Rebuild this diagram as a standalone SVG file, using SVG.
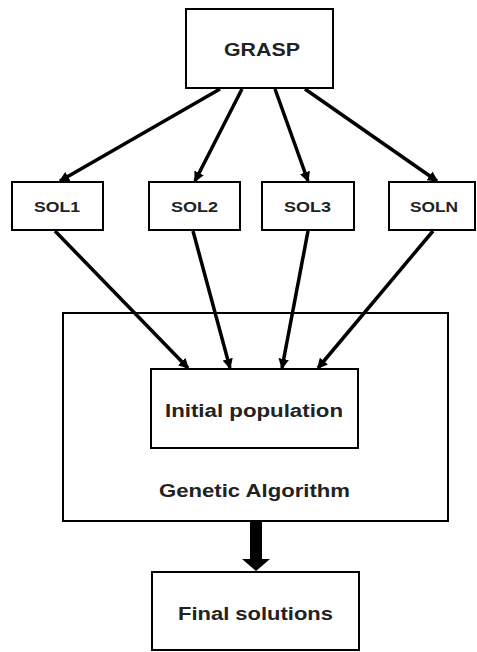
<svg xmlns="http://www.w3.org/2000/svg" width="477" height="652" viewBox="0 0 477 652">
<style>
.box{fill:#fff;stroke:#000;stroke-width:2}
.t{font-family:"Liberation Sans",Arial,sans-serif;font-weight:bold;fill:#222;text-anchor:middle}
.s{font-size:15px}
.c{stroke:#000;stroke-width:3.5;fill:none;marker-end:url(#ah)}
</style>
<defs>
<marker id="ah" markerWidth="3" markerHeight="3" refX="2.6" refY="1.5" orient="auto" markerUnits="strokeWidth">
<path d="M0,0 L3,1.5 L0,3 z" fill="#000"/>
</marker>
</defs>
<rect width="477" height="652" fill="#fff"/>
<g id="ga">
<rect class="box" x="63" y="313" width="385" height="208"/>
<text class="t" x="254.5" y="497" font-size="18" textLength="191" lengthAdjust="spacingAndGlyphs">Genetic Algorithm</text>
</g>
<g id="grasp">
<rect class="box" x="186" y="9" width="147" height="79"/>
<text class="t" x="262" y="56" font-size="19" textLength="76" lengthAdjust="spacingAndGlyphs">GRASP</text>
</g>
<g id="sol1">
<rect class="box" x="12" y="182" width="91" height="48"/>
<text class="t s" x="57" y="212" textLength="46" lengthAdjust="spacingAndGlyphs">SOL1</text>
</g>
<g id="sol2">
<rect class="box" x="149" y="182" width="91" height="48"/>
<text class="t s" x="194.5" y="212" textLength="47" lengthAdjust="spacingAndGlyphs">SOL2</text>
</g>
<g id="sol3">
<rect class="box" x="262" y="182" width="92" height="48"/>
<text class="t s" x="307.5" y="212" textLength="47" lengthAdjust="spacingAndGlyphs">SOL3</text>
</g>
<g id="soln">
<rect class="box" x="389" y="182" width="86" height="48"/>
<text class="t s" x="434" y="212" textLength="48" lengthAdjust="spacingAndGlyphs">SOLN</text>
</g>
<g id="init">
<rect class="box" x="151" y="369" width="207" height="79"/>
<text class="t" x="254" y="417" font-size="18" textLength="178" lengthAdjust="spacingAndGlyphs">Initial population</text>
</g>
<g id="final">
<rect class="box" x="152" y="572" width="207" height="78"/>
<text class="t" x="255.5" y="620" font-size="18" textLength="155" lengthAdjust="spacingAndGlyphs">Final solutions</text>
</g>
<g id="connectors">
<line class="c" x1="220" y1="89" x2="60" y2="181"/>
<line class="c" x1="242" y1="89" x2="195" y2="181"/>
<line class="c" x1="275" y1="89" x2="308" y2="181"/>
<line class="c" x1="305" y1="89" x2="437" y2="181"/>
<line class="c" x1="55" y1="231" x2="188" y2="368"/>
<line class="c" x1="193" y1="231" x2="230" y2="368"/>
<line class="c" x1="308" y1="231" x2="282" y2="368"/>
<line class="c" x1="433" y1="231" x2="318" y2="368"/>
<path d="M250,522 L262,522 L262,559 L270,559 L256,571 L242,559 L250,559 Z" fill="#000"/>
</g>
</svg>
